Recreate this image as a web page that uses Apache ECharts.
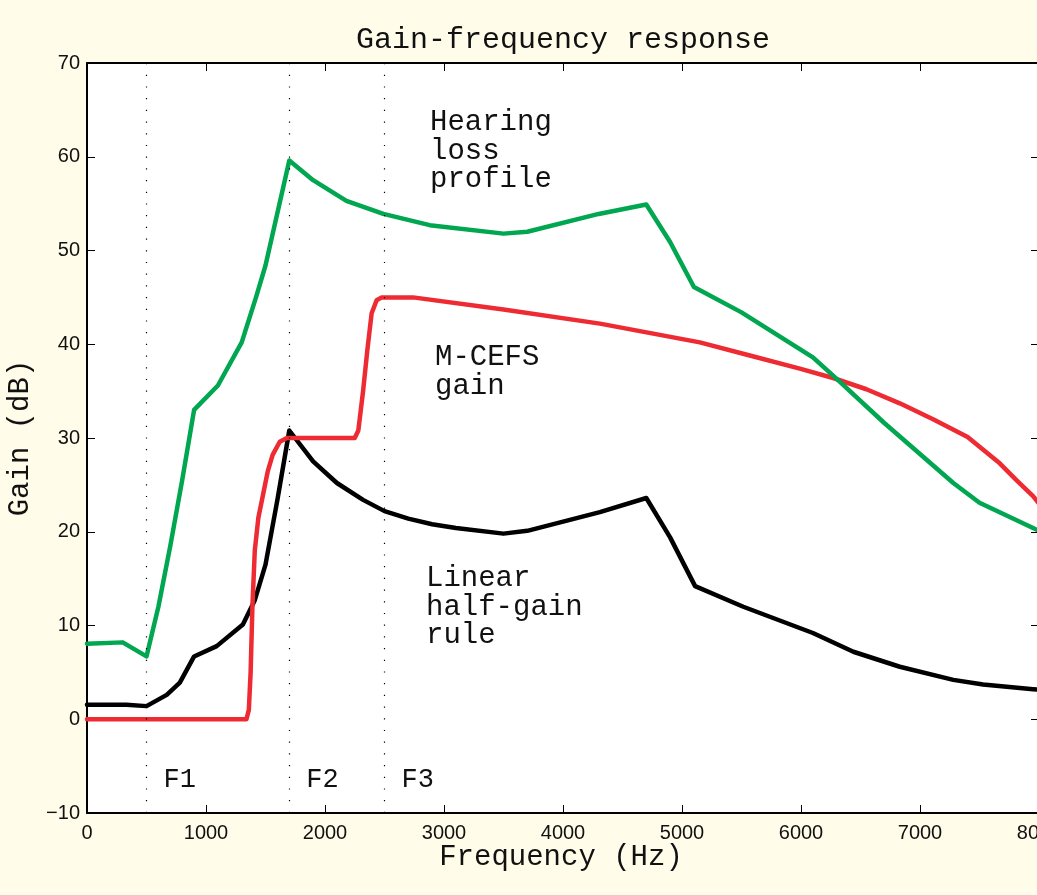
<!DOCTYPE html>
<html>
<head>
<meta charset="utf-8">
<script src="https://cdn.jsdelivr.net/npm/echarts@6/dist/echarts.min.js"></script>
<style>
html,body{margin:0;padding:0;background:#FFFCE9;}
#chart{width:1037px;height:895px;}
</style>
</head>
<body>
<div id="chart"></div>
<script>
const xTicks = [0,1000,2000,3000,4000,5000,6000,7000,8000];
const yTicks = [-10,0,10,20,30,40,50,60,70];

const freqGreen = [0,300,500,600,700,800,900,1100,1300,1420,1500,1700,1900,2180,2490,2880,3500,3700,4300,4700,4900,5100,5500,6100,6300,6700,7280,7500,7950,8000];
const gainGreen = [8.05,8.2,6.7,12,18.5,25.5,33,35.6,40.2,45,48.4,59.6,57.5,55.3,53.9,52.7,51.8,52.0,53.9,54.9,50.9,46.1,43.4,38.6,36.3,31.6,25.2,23.1,20.4,20.1];

const freqRed = [0,1340,1360,1375,1390,1410,1440,1480,1520,1560,1620,1680,2250,2280,2320,2356,2392,2434,2476,2740,3500,4310,5150,5570,5990,6270,6550,6830,7110,7400,7670,7810,7950,8000];
const gainRed = [0,0,1,5,12,18,21.5,24,26.5,28.2,29.6,30,30,30.8,35,39.4,43.3,44.7,45,45,43.7,42.2,40.2,38.8,37.4,36.4,35.2,33.7,32.0,30.1,27.3,25.5,23.8,23.0];

const freqBlack = [0,330,500,670,780,900,1090,1310,1410,1500,1600,1700,1900,2100,2320,2500,2700,2900,3100,3500,3700,4310,4700,4900,5110,5515,6100,6440,6830,7280,7530,7950,8000];
const gainBlack = [1.55,1.55,1.4,2.6,3.9,6.7,7.8,10.1,12.7,16.5,23.4,30.8,27.5,25.2,23.4,22.2,21.4,20.8,20.4,19.8,20.1,22.1,23.6,19.4,14.2,12.0,9.2,7.2,5.6,4.2,3.7,3.2,3.15];

const bandFreqs = [500,1700,2500];
const bandNames = ['F1','F2','F3'];

const annHearing = ['Hearing','loss','profile'];
const annMcefs = ['M-CEFS','gain'];
const annLinear = ['Linear','half-gain','rule'];
const xAxisTitle = 'Frequency (Hz)';

const zip = (a,b) => a.map((v,i)=>[v,b[i]]);
const mono = '"Liberation Mono","Courier New",monospace';
const sans = '"Liberation Sans",Arial,Helvetica,sans-serif';

const chart = echarts.init(document.getElementById('chart'), null, {renderer:'canvas'});

function lineSeries(name, xs, ys, color){
  return {
    type:'line', name, data: zip(xs,ys), showSymbol:false, symbol:'none',
    smooth:false, lineStyle:{color, width:4.5, cap:'round', join:'round'},
    silent:true, animation:false, z:3
  };
}

const option = {
  backgroundColor:'#FFFCE9',
  animation:false,
  title:{
    text:'Gain-frequency response', left:558, top:20, textAlign:'center',
    textStyle:{fontFamily:mono, fontSize:30, fontWeight:'normal', color:'#111'}
  },
  grid:{left:87, top:63, width:952, height:750, containLabel:false, outerBoundsMode:'none',
        backgroundColor:'#fff', show:true, borderWidth:0},
  xAxis:[{
    type:'value', min:0, max:8000, interval:1000,
    axisLine:{show:true, onZero:false, lineStyle:{color:'#000', width:2}},
    axisTick:{show:true, inside:true, length:8, lineStyle:{color:'#000', width:1}},
    axisLabel:{fontFamily:sans, fontSize:20, color:'#111', margin:10, formatter:v=>String(v),
      showMinLabel:true, showMaxLabel:true},
    splitLine:{show:false}
  },{
    type:'value', position:'top', min:0, max:8000, interval:1000,
    axisLine:{show:true, onZero:false, lineStyle:{color:'#000', width:2}},
    axisTick:{show:true, inside:true, length:8, lineStyle:{color:'#000', width:1}},
    axisLabel:{show:false}, splitLine:{show:false}
  }],
  yAxis:[{
    type:'value', min:-10, max:70, interval:10,
    name:'Gain (dB)', nameLocation:'middle', nameGap:52, nameRotate:90,
    nameTextStyle:{fontFamily:mono, fontSize:29, color:'#111'},
    axisLine:{show:true, onZero:false, lineStyle:{color:'#000', width:2}},
    axisTick:{show:true, inside:true, length:8, lineStyle:{color:'#000', width:1}},
    axisLabel:{fontFamily:sans, fontSize:20, color:'#111', margin:7,
      formatter:v=> v<0 ? '\u2212'+Math.abs(v) : String(v)},
    splitLine:{show:false}
  },{
    type:'value', position:'right', min:-10, max:70, interval:10,
    axisLine:{show:true, onZero:false, lineStyle:{color:'#000', width:2}},
    axisTick:{show:true, inside:true, length:8, lineStyle:{color:'#000', width:1}},
    axisLabel:{show:false}, splitLine:{show:false}
  }],
  series:[
    {
      type:'line', data:[], silent:true, z:1,
      markLine:{
        silent:true, symbol:['none','none'], animation:false,
        lineStyle:{color:'#000', width:1.2, type:[1.2,10.5]},
        label:{show:false},
        data: bandFreqs.map(f=>({xAxis:f}))
      }
    },
    lineSeries('Linear half-gain rule', freqBlack, gainBlack, '#000000'),
    lineSeries('M-CEFS gain', freqRed, gainRed, '#EE2A33'),
    lineSeries('Hearing loss profile', freqGreen, gainGreen, '#00A650')
  ]
};
chart.setOption(option);

function textBlock(lines, x, yTop){
  return {
    type:'text', left:x, top:yTop, silent:true, z:10,
    style:{text:lines.join('\n'), fontFamily:mono, fontSize:29, lineHeight:28.5, fill:'#111'}
  };
}
const graphics = [
  textBlock(annHearing, 430, 108),
  textBlock(annMcefs, 435, 343),
  textBlock(annLinear, 426, 564),
  {
    type:'text', x:561, y:857, silent:true, z:10,
    style:{text:xAxisTitle, fontFamily:mono, fontSize:29, fill:'#111', align:'center', verticalAlign:'middle'}
  }
];
bandFreqs.forEach((f,i)=>{
  const px = chart.convertToPixel({xAxisIndex:0}, f);
  graphics.push({
    type:'text', left:px+17, top:766, silent:true, z:10,
    style:{text:bandNames[i], fontFamily:mono, fontSize:27, fill:'#111'}
  });
});
chart.setOption({graphic:graphics});
</script>
</body>
</html>
